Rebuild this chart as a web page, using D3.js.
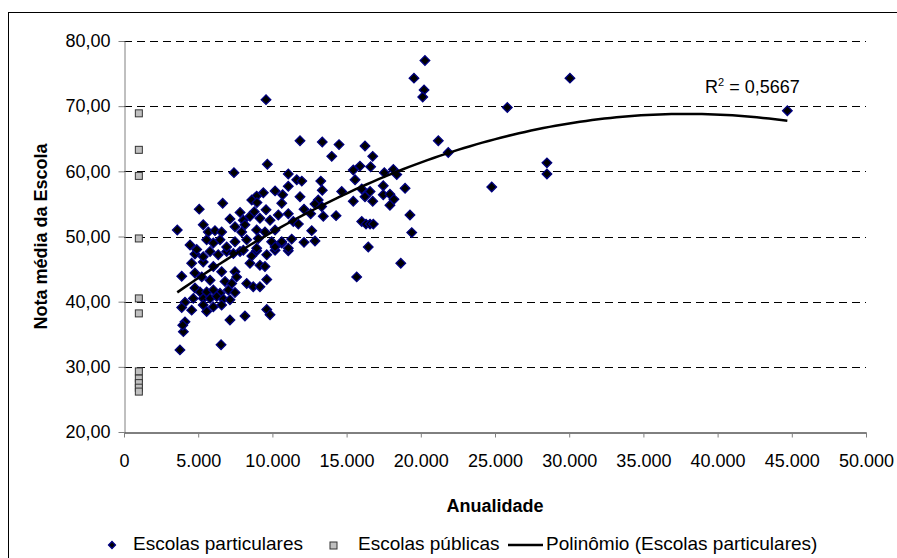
<!DOCTYPE html>
<html><head><meta charset="utf-8">
<script src="https://cdn.jsdelivr.net/npm/d3@7"></script>
<style>
html,body{margin:0;padding:0;background:#fff;overflow:hidden}
svg{display:block;font-family:"Liberation Sans",Arial,sans-serif}
</style>
</head><body>
<svg id="chart" width="897" height="558"></svg>
<script>
// ---- data ----
const privateX = [4780,5800,6350,6920,7820,8940,10180,11070,4560,5340,6020,8490,9160,9500,3890,4780,5240,5800,6580,7480,
6810,7260,7590,8270,8710,9160,9620,4780,5120,5570,6020,6470,7030,7480,4670,5340,5800,6250,6690,7140,
4110,3890,4560,5340,5570,6020,6580,7140,8150,9620,9840,4110,4000,3770,6540,3960,10630,9660,7410,11070,
6650,5070,3590,10180,11070,10690,9390,8940,8610,8960,7140,7820,8040,8490,9160,8780,9570,9840,10400,10630,
11070,11640,5340,5680,6130,6580,7480,8150,7930,8940,9500,10180,4450,4900,5570,6020,6470,6920,7480,8270,
9050,9950,10630,11070,10180,8940,8040,5340,7370,8610,9620,11860,13360,14490,14000,16240,16760,16620,15900,15450,
15570,17540,18150,18380,11980,13260,13360,11860,14670,16020,16580,16240,17470,17470,17920,18190,17920,18940,15450,16760,
13090,12870,13320,12130,12580,13430,14290,11410,11750,16020,16310,16580,16800,19270,19390,12650,11300,12130,12870,16460,
18650,15680,21180,20280,19540,20220,20130,25830,21850,24780,9570,28500,28500,30050,44700];
const privateY = [47.3,47.7,47.2,47.7,47.7,47.8,47.9,47.8,45.9,46.1,45.4,45.9,45.6,45.4,43.9,44.4,43.8,43.3,44.6,44.6,
43.1,42.8,43.8,42.8,42.3,42.3,43.4,42.1,41.5,41.5,41.8,41.3,41.8,41.4,40.5,40.5,40.5,40.8,40.4,40.3,
39.9,39.1,38.7,39.5,38.5,39.2,39.5,37.2,37.8,38.8,38.0,36.9,35.4,32.6,33.4,36.4,49.0,61.1,59.8,59.6,
55.1,54.2,51.0,57.0,57.7,56.4,56.7,56.2,55.6,55.2,52.7,53.7,52.5,53.1,52.8,53.8,54.1,52.5,53.3,55.1,
53.5,58.7,51.8,50.7,50.9,50.7,51.5,51.8,50.7,51.0,50.7,51.0,48.7,48.0,49.5,49.0,49.5,48.4,49.2,49.5,
49.7,49.2,49.2,48.2,48.4,48.2,47.9,46.9,47.4,47.0,47.2,64.7,64.5,64.1,62.3,63.9,62.3,60.7,60.8,60.2,
58.7,59.8,60.3,59.5,58.5,58.5,57.1,56.1,56.9,57.3,56.9,56.1,57.8,56.4,56.5,55.7,54.8,57.4,55.4,55.4,
55.6,55.0,54.6,54.2,53.5,53.1,53.2,52.3,51.9,52.3,51.9,51.9,51.9,53.3,50.6,50.9,49.6,49.1,49.3,48.4,
45.9,43.8,64.7,77.0,74.3,72.5,71.4,69.8,62.9,57.6,71.0,61.3,59.6,74.3,69.3];
const publicX = [1000,1000,1000,1000,1000,1000,1000,1000,1000,1000,1000];
const publicY = [68.9,63.3,59.3,49.7,40.5,38.2,29.3,28.2,27.5,26.8,26.2];
const xTicks = [0,5000,10000,15000,20000,25000,30000,35000,40000,45000,50000];
const yTicks = [20,30,40,50,60,70,80];
const r2Text = "0,5667";
const legendLabels = ["Escolas particulares","Escolas públicas","Polinômio (Escolas particulares)"];
const xTitle = "Anualidade";
const yTitle = "Nota média da Escola";

// ---- layout ----
const svg = d3.select("#chart");
const x = d3.scaleLinear().domain([0,50000]).range([124,866]);
const y = d3.scaleLinear().domain([20,80]).range([432,41]);
const loc = d3.formatLocale({decimal:",",thousands:".",grouping:[3],currency:["",""]});
const fmtX = loc.format(",.0f");
const fmtY = loc.format(".2f");

// outer border
svg.append("rect").attr("x",8.5).attr("y",12.5).attr("width",960).attr("height",700)
  .attr("fill","none").attr("stroke","#000").attr("stroke-width",1);

// gridlines
svg.append("g").selectAll("line").data(yTicks.filter(d=>d>20)).join("line")
  .attr("x1",x(0)).attr("x2",x(50000))
  .attr("y1",d=>Math.round(y(d))+0.5).attr("y2",d=>Math.round(y(d))+0.5)
  .attr("stroke","#000").attr("stroke-width",1).attr("stroke-dasharray","8,5");

// y axis
const gy = svg.append("g").attr("transform",`translate(${x(0)+0.5},0)`)
  .call(d3.axisLeft(y).tickValues(yTicks).tickFormat(fmtY).tickSize(6).tickSizeOuter(0).tickPadding(8));
gy.select(".domain").attr("stroke","#808080");
gy.selectAll(".tick line").attr("stroke","#808080");
gy.selectAll("text").attr("font-size",18).attr("fill","#000").attr("font-family","Liberation Sans, Arial, sans-serif");

// x axis
const gx = svg.append("g").attr("transform",`translate(0,${y(20)+0.5})`)
  .call(d3.axisBottom(x).tickValues(xTicks).tickFormat(fmtX).tickSize(5).tickSizeOuter(0).tickPadding(17));
gx.select(".domain").attr("stroke","#000");
gx.selectAll(".tick line").attr("stroke","#808080");
gx.selectAll("text").attr("font-size",18).attr("fill","#000").attr("font-family","Liberation Sans, Arial, sans-serif");

// public schools
svg.append("g").selectAll("rect").data(publicX.map((d,i)=>[d,publicY[i]])).join("rect")
  .attr("x",d=>x(d[0])-3.5).attr("y",d=>y(d[1])-3.5).attr("width",7).attr("height",7)
  .attr("fill","#c0c0c0").attr("stroke","#333").attr("stroke-width",1);

// private schools
const diamond = d3.symbol(d3.symbolSquare, 46);
svg.append("g").selectAll("path").data(privateX.map((d,i)=>[d,privateY[i]])).join("path")
  .attr("d",diamond)
  .attr("transform",d=>`translate(${x(d[0])},${y(d[1])}) rotate(45)`)
  .attr("fill","#000").attr("stroke","#000080").attr("stroke-width",1.3);

// polynomial (order 2) least-squares trend of private schools
function quadFit(xs, ys){
  const n = xs.length; let S=[0,0,0,0,0], T=[0,0,0];
  for(let i=0;i<n;i++){const u=xs[i]/1000;let p=1;for(let k=0;k<5;k++){S[k]+=p;if(k<3)T[k]+=p*ys[i];p*=u;}}
  const A=[[S[0],S[1],S[2],T[0]],[S[1],S[2],S[3],T[1]],[S[2],S[3],S[4],T[2]]];
  for(let c=0;c<3;c++){for(let r=c+1;r<3;r++){const f=A[r][c]/A[c][c];for(let k=c;k<4;k++)A[r][k]-=f*A[c][k];}}
  const s=[0,0,0];
  for(let r=2;r>=0;r--){let v=A[r][3];for(let k=r+1;k<3;k++)v-=A[r][k]*s[k];s[r]=v/A[r][r];}
  return u=>s[0]+s[1]*(u/1000)+s[2]*(u/1000)*(u/1000);
}
const trend = quadFit(privateX, privateY);
const xmin = d3.min(privateX), xmax = d3.max(privateX);
const trendPts = d3.range(0,101).map(i=>{const xv=xmin+(xmax-xmin)*i/100;return [xv,trend(xv)];});
svg.append("path").datum(trendPts)
  .attr("d",d3.line().x(d=>x(d[0])).y(d=>y(d[1])))
  .attr("fill","none").attr("stroke","#000").attr("stroke-width",2.5);

// R² label
const r2 = svg.append("text").attr("x",705).attr("y",93).attr("font-size",18).attr("fill","#000");
r2.append("tspan").text("R");
r2.append("tspan").attr("font-size",11).attr("dy",-7).text("2");
r2.append("tspan").attr("dy",7).text(" = " + r2Text);

// axis titles
svg.append("text").attr("x",(x(0)+x(50000))/2).attr("y",512).attr("text-anchor","middle")
  .attr("font-size",18).attr("font-weight","bold").text(xTitle);
svg.append("text").attr("transform",`translate(47,${(y(20)+y(80))/2}) rotate(-90)`).attr("text-anchor","middle")
  .attr("font-size",18).attr("font-weight","bold").text(yTitle);

// legend
const lg = svg.append("g");
lg.append("path").attr("d",d3.symbol(d3.symbolSquare,24)).attr("transform","translate(112,545) rotate(45)")
  .attr("fill","#000").attr("stroke","#000080").attr("stroke-width",1.3);
lg.append("text").attr("x",133).attr("y",550).attr("font-size",19).text(legendLabels[0]);
lg.append("rect").attr("x",330).attr("y",542).attr("width",7).attr("height",7)
  .attr("fill","#c0c0c0").attr("stroke","#333").attr("stroke-width",1);
lg.append("text").attr("x",358).attr("y",550).attr("font-size",19).text(legendLabels[1]);
lg.append("line").attr("x1",508).attr("x2",543).attr("y1",545).attr("y2",545)
  .attr("stroke","#000").attr("stroke-width",2.5);
lg.append("text").attr("x",546).attr("y",550).attr("font-size",19).text(legendLabels[2]);
</script>
</body></html>
